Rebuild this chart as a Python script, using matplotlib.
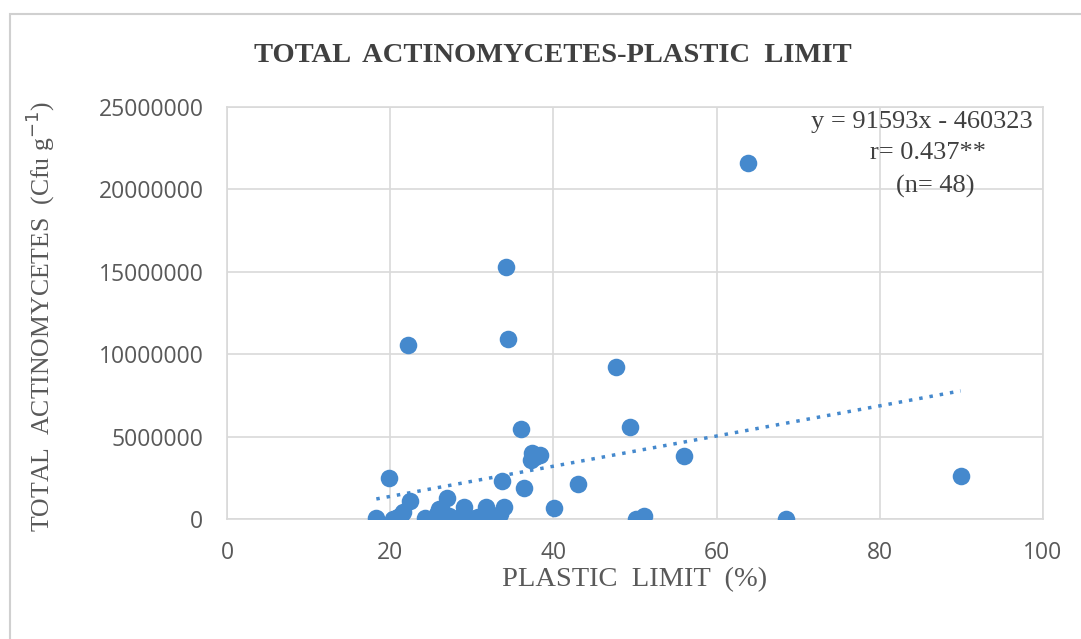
import numpy as np
import matplotlib
matplotlib.use("Agg")
import matplotlib.pyplot as plt
from matplotlib.patches import Rectangle

# plastic limit (%) and actinomycetes count (cfu/g)
plastic_limit = [18.3, 19.9, 22.2, 20.4, 21.0, 21.6, 22.4, 24.3, 25.7, 26.3,
                 26.9, 26.7, 29.0, 29.6, 30.2, 31.4, 31.8, 33.1, 33.9, 33.7,
                 34.2, 34.4, 36.0, 36.4, 37.2, 37.4, 37.8, 38.4, 40.1, 43.0,
                 47.7, 49.4, 50.1, 51.1, 56.0, 63.9, 68.5, 89.9,
                 20.8, 26.0, 30.8, 31.6, 32.5, 33.5, 30.5, 27.2, 28.6, 21.3]
actino = [0.08, 2.46, 10.55, 0.0, 0.15, 0.4, 1.1, 0.08, 0.3, 0.5,
          1.3, 0.1, 0.7, 0.08, 0.0, 0.0, 0.7, 0.0, 0.7, 2.3,
          15.3, 10.9, 5.47, 1.9, 3.6, 4.0, 3.75, 3.9, 0.65, 2.1,
          9.2, 5.6, 0.0, 0.2, 3.8, 21.6, 0.02, 2.6,
          0.05, 0.6, 0.1, 0.2, 0.05, 0.3, 0.05, 0.2, 0.1, 0.25]
actino = [v * 1e6 for v in actino]

slope = 91593
intercept = -460323
x_ticks = [0, 20, 40, 60, 80, 100]
y_ticks = [0, 5000000, 10000000, 15000000, 20000000, 25000000]

blue = "#4589cd"
grey = "#595959"
dark = "#404040"

fig = plt.figure(figsize=(10.81, 6.39), dpi=100)
# chart border (only left/top visible in the picture)
fig.patches.append(Rectangle((10 / 1081, -0.1), 1.2, (639 - 14) / 639 + 0.1,
                             transform=fig.transFigure, fill=False,
                             edgecolor="#d0d0d0", linewidth=1.5))

ax = fig.add_axes([227 / 1081, 1 - 519 / 639, (1043 - 227) / 1081, (519 - 107) / 639])
ax.scatter(plastic_limit, actino, s=160, color=blue, zorder=3, linewidths=0)

xs = np.array([min(plastic_limit), max(plastic_limit)])
ax.plot(xs, slope * xs + intercept, linestyle=(0, (1, 2)), color=blue,
        linewidth=2.5, zorder=2)

ax.set_xlim(0, 100)
ax.set_ylim(0, 25000000)
ax.set_xticks(x_ticks)
ax.set_yticks(y_ticks)
ax.set_xticklabels([str(t) for t in x_ticks])
ax.set_yticklabels([str(t) for t in y_ticks])
ax.grid(True, color="#d9d9d9", linewidth=1.2, zorder=0)
ax.set_axisbelow(True)
for sp in ax.spines.values():
    sp.set_color("#d9d9d9")
    sp.set_linewidth(1.2)
ax.tick_params(length=0, labelsize=16.5, labelcolor=grey)
ax.tick_params(axis="y", pad=17)
ax.tick_params(axis="x", pad=16)
for lab in ax.get_xticklabels() + ax.get_yticklabels():
    lab.set_fontfamily("Open Sans")

fig.text(553 / 1081, 1 - 56 / 639, "TOTAL  ACTINOMYCETES-PLASTIC  LIMIT",
         ha="center", va="center", fontsize=20.5, fontweight="bold",
         family="Liberation Serif", color=dark)
fig.text(635 / 1081, 1 - 580 / 639, "PLASTIC  LIMIT  (%)", ha="center",
         va="center", fontsize=20.5, family="Liberation Serif", color=grey)
fig.text(40 / 1081, 1 - 316 / 639, "TOTAL  ACTINOMYCETES  (Cfu g$^{-1}$)",
         ha="center", va="center", rotation=90, fontsize=18.5,
         family="Liberation Serif", color=grey)

fig.text(1033 / 1081, 1 - 122 / 639, "y = 91593x - 460323", ha="right",
         va="center", fontsize=19, family="Liberation Serif", color=dark)
fig.text(928 / 1081, 1 - 153 / 639, "r= 0.437**", ha="center",
         va="center", fontsize=19, family="Liberation Serif", color=dark)
fig.text(935 / 1081, 1 - 186 / 639, "(n= 48)", ha="center",
         va="center", fontsize=19, family="Liberation Serif", color=dark)

fig.savefig("out.png", dpi=100)
